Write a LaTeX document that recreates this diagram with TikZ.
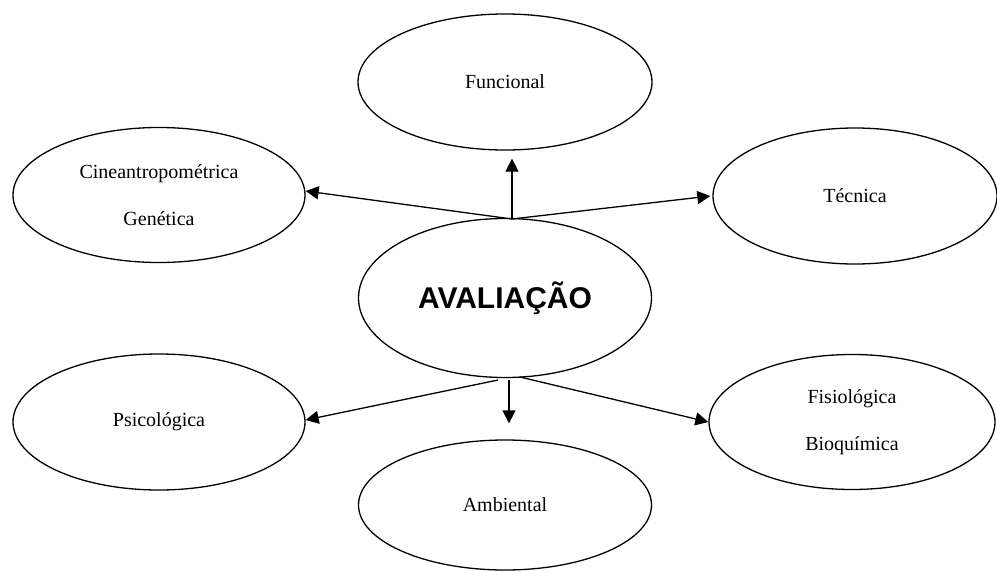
\documentclass[tikz,border=0pt]{standalone}
\usepackage{fontspec}
\setmainfont{Liberation Serif}
\newfontfamily\headfont{Liberation Sans}
\usetikzlibrary{shapes.geometric,arrows.meta}
\begin{document}
\begin{tikzpicture}[x=1pt,y=-1pt,
  bubble/.style={draw,ellipse,line width=1.3pt,inner sep=0pt,
    font=\fontsize{20}{47}\selectfont,align=center},
  arr/.style={line width=1.3pt,-{Triangle[length=13pt,width=13pt]}}]
\useasboundingbox (0,0) rectangle (997,571);
% central node
\node[bubble,minimum width=293pt,minimum height=159pt,
      font=\headfont\bfseries\fontsize{30}{36}\selectfont] (ava) at (505,298) {AVALIAÇÃO};
% surrounding aspects
\node[bubble,minimum width=294pt,minimum height=136pt] (fun) at (505,82) {Funcional};
\node[bubble,minimum width=292pt,minimum height=135pt] (cin) at (159,195) {Cineantropométrica\\Genética};
\node[bubble,minimum width=284pt,minimum height=136pt] (tec) at (855,196) {Técnica};
\node[bubble,minimum width=292pt,minimum height=136pt] (psi) at (159,422) {Psicológica};
\node[bubble,minimum width=293pt,minimum height=130pt] (amb) at (505,505) {Ambiental};
\node[bubble,minimum width=286pt,minimum height=135pt] (fis) at (852,422) {Fisiológica\\Bioquímica};
% arrow origins on the central ellipse
\coordinate (tA) at (512,219);
\coordinate (bL) at (498,380);
\coordinate (bC) at (509,380);
\coordinate (bR) at (520,377);
% connectors
\draw[arr,shorten >=8pt] (tA) -- (tA |- fun.south);
\draw[arr] (tA) -- ([yshift=4pt]cin.east);
\draw[arr] (tA) -- ([xshift=-2pt]tec.west);
\draw[arr,shorten >=16pt] (bC) -- (bC |- amb.north);
\draw[arr] (bL) -- ([yshift=2pt]psi.east);
\draw[arr] (bR) -- (fis.west);
\end{tikzpicture}
\end{document}
